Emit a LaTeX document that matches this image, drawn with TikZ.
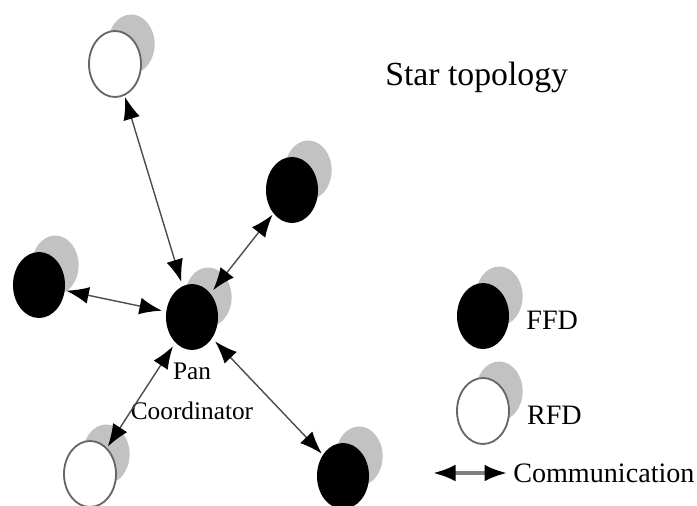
\documentclass[tikz,border=0pt]{standalone}
\usepackage{fontspec}
\setmainfont{Liberation Serif}
\usetikzlibrary{arrows.meta,positioning,shapes.geometric,shadows}
\definecolor{shade}{gray}{0.76}
\definecolor{rim}{gray}{0.4}
\definecolor{linkgray}{gray}{0.3}

\begin{document}
\begin{tikzpicture}[x=0.025cm,y=-0.025cm,node distance=0.4cm]
\tikzset{head/.tip={Latex[length=16pt,width=12pt,color=black]},
  dev/.style={ellipse,minimum width=1.3cm,minimum height=1.65cm,inner sep=0pt,
    general shadow={fill=shade,shadow xshift=0.45cm,shadow yshift=0.55cm,shadow scale=0.9}},
  ffd/.style={dev,fill=black},
  rfd/.style={dev,fill=white,draw=rim,line width=1.3pt},
  link/.style={head-head,draw=linkgray,line width=1pt,shorten <=3pt,shorten >=1pt},
  lbl/.style={inner sep=0pt,font=\fontsize{20}{24}\selectfont}}
\useasboundingbox (0,0) rectangle (697,506);
% devices around the coordinator
\node[ffd] (pan) at (192,317) {};
\node[rfd] (top) at (115,64) {};
\node[ffd] (upright) at (292,190) {};
\node[ffd] (left) at (39,285) {};
\node[rfd] (lowleft) at (90,474) {};
\node[ffd] (lowright) at (343,476) {};
\node[lbl,align=center,below=0.3cm of pan,font=\fontsize{18}{29}\selectfont] (pantxt) {Pan\\Coordinator};
\draw[link] (pan) -- (top);
\draw[link] (pan) -- (upright);
\draw[link] (pan) -- (left);
\draw[link] (pan) -- (lowleft);
\draw[link] (pan) -- (lowright);
\node[anchor=base west,inner sep=0pt,font=\fontsize{24}{28}\selectfont] (title) at (385,85) {Star topology};
% legend
\node[ffd] (legf) at (483,316) {};
\node[rfd] (legr) at (483,411) {};
\node[lbl,right=0.42cm of legf,yshift=-0.1cm] (ffdtxt) {FFD};
\node[lbl,right=0.42cm of legr,yshift=-0.12cm] (rfdtxt) {RFD};
\coordinate (ca) at (433,473);
\coordinate (cb) at (507,473);
\draw[head-head,draw=gray,line width=2.5pt] (ca) -- (cb);
\node[lbl,right=0.15cm of cb] (comm) {Communication};
\end{tikzpicture}
\end{document}
